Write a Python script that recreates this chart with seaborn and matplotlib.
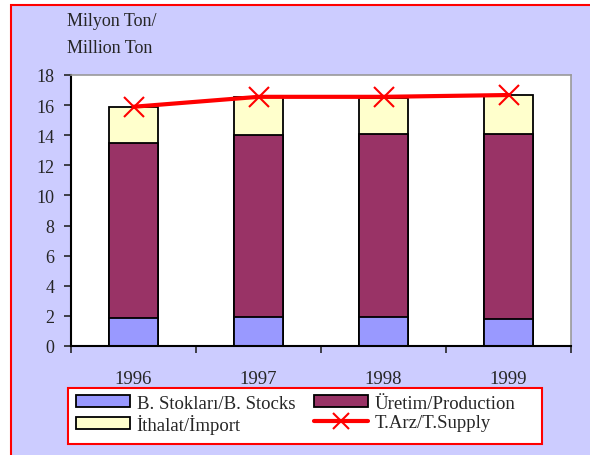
import pandas as pd
import matplotlib.pyplot as plt
import matplotlib.patches as mpatches
from matplotlib.lines import Line2D
import seaborn as sns

years = ["1996", "1997", "1998", "1999"]
stocks = [1.84, 1.95, 1.95, 1.79]
production = [11.64, 12.04, 12.15, 12.31]
imports = [2.37, 2.52, 2.37, 2.55]
supply = [15.89, 16.55, 16.55, 16.67]
yticks = [0, 2, 4, 6, 8, 10, 12, 14, 16, 18]

df = pd.DataFrame({"Yil": years, "Stok": stocks, "Uretim": production,
                   "Ithalat": imports, "Arz": supply})
df["s1"] = df["Stok"]
df["s2"] = df["Stok"] + df["Uretim"]
df["s3"] = df["s2"] + df["Ithalat"]

sns.set_style("white")
plt.rcParams["font.family"] = ["Liberation Serif", "DejaVu Serif"]

c_stok = "#9999FF"
c_uretim = "#993366"
c_ithalat = "#FFFFCC"

fig = plt.figure(figsize=(5.9, 4.56), dpi=100)
fig.patch.set_facecolor("white")
# lavender background with red frame
fig.patches.append(mpatches.Rectangle((11 / 590, -0.05), 1.1, (456 - 6) / 456 + 0.05,
                                      transform=fig.transFigure, facecolor="#CCCCFF",
                                      edgecolor="#FF0000", linewidth=1.5, zorder=-10))
# legend box
fig.patches.append(mpatches.Rectangle((68 / 590, 1 - 445 / 456), (542 - 68) / 590, 56 / 456,
                                      transform=fig.transFigure, facecolor="white",
                                      edgecolor="#FF0000", linewidth=1.5, zorder=-5))

ax = fig.add_axes([71 / 590, 1 - 347 / 456, 500 / 590, 271 / 456])
ax.set_facecolor("white")

# stacked bars drawn as cumulative totals, top layer first
for col, c in [("s3", c_ithalat), ("s2", c_uretim), ("s1", c_stok)]:
    sns.barplot(data=df, x="Yil", y=col, color=c, width=0.39,
                edgecolor="black", linewidth=1.3, saturation=1, ax=ax)

sns.pointplot(data=df, x="Yil", y="Arz", color="#FF0000", markers="x",
              linestyles="-", linewidth=3, markersize=15, markeredgewidth=1.5, ax=ax)

ax.set_xlim(-0.5, 3.5)
ax.set_ylim(0, 18)
ax.set_yticks(yticks)
ax.set_yticklabels([str(v) for v in yticks], fontsize=13)
ax.tick_params(axis="y", direction="out", length=5, width=1.2, left=True, pad=7)

ax.set_xticks([-0.5, 0.5, 1.5, 2.5, 3.5])
ax.set_xticklabels([])
ax.tick_params(axis="x", which="major", direction="out", length=5, width=1.2, bottom=True)
ax.set_xticks([0, 1, 2, 3], minor=True)
ax.set_xticklabels(years, minor=True, fontsize=13.5)
ax.tick_params(axis="x", which="minor", length=0, pad=17)
ax.set_xlabel("")
ax.set_ylabel("")

for s in ["left", "bottom"]:
    ax.spines[s].set_color("black")
    ax.spines[s].set_linewidth(1.5)
for s in ["top", "right"]:
    ax.spines[s].set_color("#999999")
    ax.spines[s].set_linewidth(1.2)

fig.text(67 / 590, 1 - 21 / 456, "Milyon Ton/", fontsize=13, va="center", ha="left")
fig.text(67 / 590, 1 - 49 / 456, "Million Ton", fontsize=13, va="center", ha="left")

handles = [
    mpatches.Patch(facecolor=c_stok, edgecolor="black", linewidth=1.3, label="B. Stokları/B. Stocks"),
    mpatches.Patch(facecolor=c_ithalat, edgecolor="black", linewidth=1.3, label="İthalat/İmport"),
    mpatches.Patch(facecolor=c_uretim, edgecolor="black", linewidth=1.3, label="Üretim/Production"),
    Line2D([], [], color="#FF0000", linewidth=3, marker="x", markersize=12,
           markeredgewidth=1.5, label="T.Arz/T.Supply"),
]
leg = fig.legend(handles=handles, ncol=2, loc="upper left",
                 bbox_to_anchor=(70 / 590, 1 - 390 / 456),
                 fontsize=13.5, frameon=False,
                 handlelength=2.9, handleheight=0.6, borderpad=0.3, labelspacing=0.12,
                 handletextpad=0.35, columnspacing=1.0, borderaxespad=0)

fig.savefig("out.png", dpi=100, facecolor=fig.get_facecolor())
